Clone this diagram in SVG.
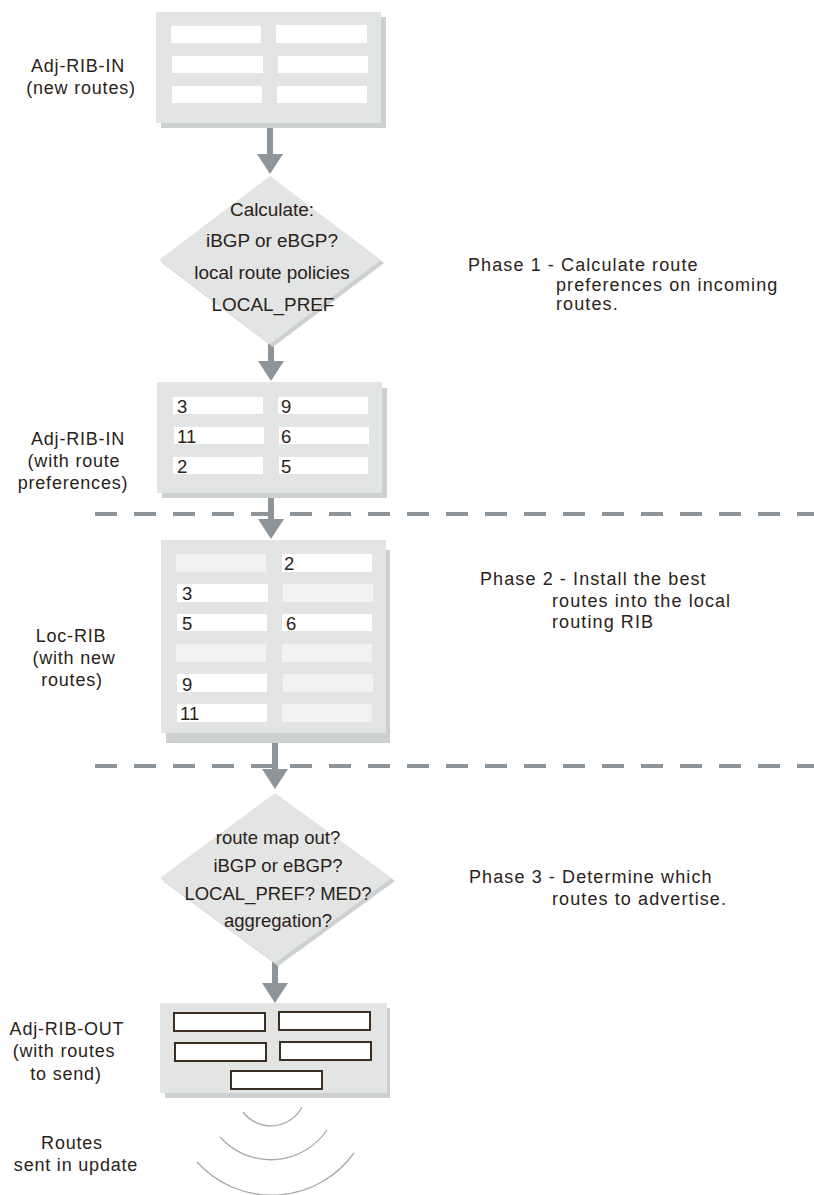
<svg xmlns="http://www.w3.org/2000/svg" width="814" height="1195" viewBox="0 0 814 1195">
<style>
.box{fill:#e3e4e4}
.sh{fill:#cdd0d1}
.bar{fill:#ffffff}
.fbar{fill:#f1f2f2}
.obar{fill:#ffffff;stroke:#3b2f22;stroke-width:2}
.arr{fill:#8e959a}
.dash{stroke:#8e959a;stroke-width:4;stroke-dasharray:22 17;fill:none}
.wave{fill:none;stroke:#a6a9ab;stroke-width:1.3}
text{font-family:"Liberation Sans",Arial,sans-serif;fill:#2a2219;font-size:18px}
.lbl{text-anchor:middle;letter-spacing:0.8px}
.ph{letter-spacing:1.1px}
.dt{text-anchor:middle;font-size:18.9px}
.dt2{text-anchor:middle;font-size:18.5px}
.num{font-size:18.5px}
</style>
<defs>
<path id="ah" d="M-13,0 L13,0 L0,20 Z"/>
</defs>

<g id="connectors">
<line class="dash" x1="95" y1="514" x2="814" y2="514"/>
<line class="dash" x1="95" y1="766" x2="814" y2="766"/>
<rect class="arr" x="267" y="123" width="6" height="32"/>
<use href="#ah" class="arr" x="270" y="154"/>
<rect class="arr" x="268" y="343" width="6" height="19"/>
<use href="#ah" class="arr" x="271" y="361"/>
<rect class="arr" x="268" y="493" width="6" height="27"/>
<use href="#ah" class="arr" x="271" y="519"/>
<rect class="arr" x="272" y="735" width="6" height="35"/>
<use href="#ah" class="arr" x="275" y="769"/>
<rect class="arr" x="272" y="962" width="6" height="22"/>
<use href="#ah" class="arr" x="275" y="983"/>
</g>

<g id="adj-rib-in-new">
<rect class="sh" x="161" y="17" width="225" height="111"/>
<rect class="box" x="156" y="12" width="225" height="111"/>
<rect class="bar" x="171" y="26" width="90" height="17"/>
<rect class="bar" x="276" y="25" width="91" height="18"/>
<rect class="bar" x="172" y="56" width="91" height="17"/>
<rect class="bar" x="278" y="56" width="90" height="17"/>
<rect class="bar" x="172" y="86" width="90" height="17"/>
<rect class="bar" x="277" y="86" width="90" height="17"/>
<text class="lbl" x="78" y="72">Adj-RIB-IN</text>
<text class="lbl" x="81" y="94">(new routes)</text>
</g>

<g id="calc-diamond">
<polygon class="sh" points="273,179 384,263 273,347 162,263"/>
<polygon class="box" points="270,176 381,260 270,344 159,260"/>
<text class="dt" x="272" y="216">Calculate:</text>
<text class="dt" x="272" y="247">iBGP or eBGP?</text>
<text class="dt" x="272" y="279">local route policies</text>
<text class="dt" x="273" y="311">LOCAL_PREF</text>
</g>

<g id="phase1">
<text class="ph" x="468" y="271">Phase 1 - Calculate route</text>
<text class="ph" x="556" y="291">preferences on incoming</text>
<text class="ph" x="556" y="310">routes.</text>
</g>

<g id="adj-rib-in-pref">
<rect class="sh" x="162" y="388" width="225" height="110"/>
<rect class="box" x="157" y="382" width="225" height="111"/>
<rect class="bar" x="173" y="397" width="90" height="17"/>
<rect class="bar" x="278" y="397" width="90" height="17"/>
<rect class="bar" x="174" y="427" width="90" height="17"/>
<rect class="bar" x="279" y="427" width="90" height="17"/>
<rect class="bar" x="173" y="457" width="90" height="17"/>
<rect class="bar" x="279" y="457" width="89" height="17"/>
<text class="num" x="177" y="413">3</text>
<text class="num" x="281" y="413">9</text>
<text class="num" x="177" y="443">11</text>
<text class="num" x="281" y="443">6</text>
<text class="num" x="177" y="473">2</text>
<text class="num" x="281" y="473">5</text>
<text class="lbl" x="78" y="445">Adj-RIB-IN</text>
<text class="lbl" x="74" y="467">(with route</text>
<text class="lbl" x="73" y="489">preferences)</text>
</g>

<g id="loc-rib">
<rect class="sh" x="166" y="550" width="224" height="193"/>
<rect class="box" x="161" y="540" width="225" height="193"/>
<rect class="fbar" x="176" y="554" width="90" height="18"/>
<rect class="bar" x="282" y="554" width="90" height="18"/>
<rect class="bar" x="177" y="584" width="91" height="18"/>
<rect class="fbar" x="283" y="584" width="90" height="18"/>
<rect class="bar" x="177" y="614" width="90" height="17"/>
<rect class="bar" x="282" y="614" width="90" height="17"/>
<rect class="fbar" x="176" y="644" width="90" height="18"/>
<rect class="fbar" x="282" y="644" width="90" height="18"/>
<rect class="bar" x="177" y="674" width="90" height="18"/>
<rect class="fbar" x="283" y="674" width="90" height="18"/>
<rect class="bar" x="177" y="704" width="90" height="18"/>
<rect class="fbar" x="282" y="704" width="90" height="18"/>
<text class="num" x="284" y="570">2</text>
<text class="num" x="182" y="600">3</text>
<text class="num" x="182" y="630">5</text>
<text class="num" x="286" y="630">6</text>
<text class="num" x="182" y="691">9</text>
<text class="num" x="180" y="720">11</text>
<text class="lbl" x="71" y="642">Loc-RIB</text>
<text class="lbl" x="74" y="664">(with new</text>
<text class="lbl" x="72" y="686">routes)</text>
</g>

<g id="phase2">
<text class="ph" x="480" y="585">Phase 2 - Install the best</text>
<text class="ph" x="552" y="607">routes into the local</text>
<text class="ph" x="552" y="628">routing RIB</text>
</g>

<g id="advertise-diamond">
<polygon class="sh" points="278,796 395,881 278,966 163,881"/>
<polygon class="box" points="275,793 392,878 275,963 160,878"/>
<text class="dt2" x="278" y="844">route map out?</text>
<text class="dt2" x="278" y="872">iBGP or eBGP?</text>
<text class="dt2" x="278" y="900">LOCAL_PREF? MED?</text>
<text class="dt2" x="278" y="927">aggregation?</text>
</g>

<g id="phase3">
<text class="ph" x="469" y="883">Phase 3 - Determine which</text>
<text class="ph" x="552" y="905">routes to advertise.</text>
</g>

<g id="adj-rib-out">
<rect class="sh" x="165" y="1008" width="225" height="90"/>
<rect class="box" x="160" y="1003" width="227" height="90"/>
<rect class="obar" x="174" y="1013" width="91" height="18"/>
<rect class="obar" x="279" y="1012" width="91" height="18"/>
<rect class="obar" x="175" y="1043" width="91" height="18"/>
<rect class="obar" x="280" y="1042" width="91" height="18"/>
<rect class="obar" x="231" y="1071" width="91" height="18"/>
<text class="lbl" x="67" y="1035">Adj-RIB-OUT</text>
<text class="lbl" x="64" y="1057">(with routes</text>
<text class="lbl" x="66" y="1080">to send)</text>
</g>

<g id="routes-sent">
<path class="wave" d="M243,1112 A35,35 0 0 0 302,1107"/>
<path class="wave" d="M220,1137 A68,68 0 0 0 327,1130"/>
<path class="wave" d="M197,1162 A101,101 0 0 0 354,1153"/>
<text class="lbl" x="72" y="1149">Routes</text>
<text class="lbl" x="76" y="1171">sent in update</text>
</g>
</svg>
